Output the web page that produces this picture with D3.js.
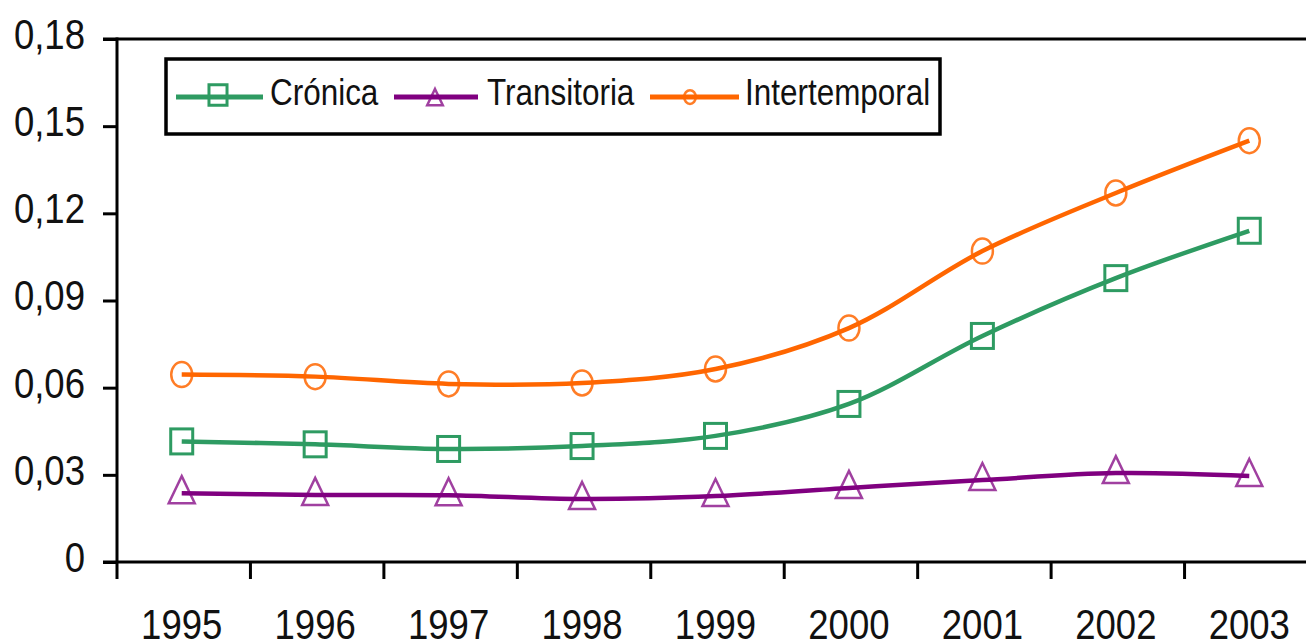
<!DOCTYPE html>
<html><head><meta charset="utf-8">
<script src="https://cdn.jsdelivr.net/npm/d3@7"></script>
<style>
html,body{margin:0;padding:0;background:#fff;}
svg{display:block;}
text{font-family:"Liberation Sans",Arial,sans-serif;fill:#111;}
</style></head>
<body><svg id="c" width="1306" height="643"></svg>
<script>
const years = ["1995","1996","1997","1998","1999","2000","2001","2002","2003"];
const cronica = [0.0415,0.0405,0.0389,0.0399,0.0434,0.0544,0.0778,0.0977,0.1140];
const transitoria = [0.0237,0.0231,0.0230,0.0217,0.0227,0.0255,0.0282,0.0306,0.0296];
const intertemporal = [0.0645,0.0638,0.0613,0.0616,0.0664,0.0805,0.1070,0.1270,0.1450];
const yTicks = [0,0.03,0.06,0.09,0.12,0.15,0.18];
const yTickLabels = ["0","0,03","0,06","0,09","0,12","0,15","0,18"];
const seriesNames = ["Crónica","Transitoria","Intertemporal"];
const colors = ["#2E9B62","#800080","#FF6600"];

const svg = d3.select("#c");
const x = d3.scaleBand().domain(years).range([117,1318]);
const y = d3.scaleLinear().domain([0,0.18]).range([562,39]);
const cx = d => x(d) + x.bandwidth()/2 - 2;

// axes lines
const axisCol = "#000";
svg.append("line").attr("x1",103).attr("x2",1306).attr("y1",y(0.18)).attr("y2",y(0.18)).attr("stroke",axisCol).attr("stroke-width",3);
svg.append("line").attr("x1",103).attr("x2",1306).attr("y1",y(0)).attr("y2",y(0)).attr("stroke",axisCol).attr("stroke-width",3);
svg.append("line").attr("x1",117).attr("x2",117).attr("y1",y(0.18)-1.5).attr("y2",579).attr("stroke",axisCol).attr("stroke-width",3);

// y axis
const yAxis = d3.axisLeft(y).tickValues(yTicks).tickSizeInner(14).tickSizeOuter(0)
  .tickFormat((d,i)=>yTickLabels[i]);
const gy = svg.append("g").attr("transform","translate(117,0)").call(yAxis);
gy.select(".domain").remove();
gy.selectAll(".tick line").attr("stroke",axisCol).attr("stroke-width",3);
gy.selectAll(".tick text").attr("x",-32/0.85).attr("dy","0.22em")
  .attr("transform","scale(0.85,1)").style("font-size","43px").style("fill","#111");

// x axis boundary ticks
svg.append("g").selectAll("line").data(years.slice(1)).join("line")
  .attr("x1",d=>x(d)).attr("x2",d=>x(d)).attr("y1",y(0)).attr("y2",579)
  .attr("stroke",axisCol).attr("stroke-width",3);

const xAxis = d3.axisBottom(x).tickSize(0);
const gx = svg.append("g").attr("transform",`translate(-2,${y(0)})`).call(xAxis);
gx.select(".domain").remove();
gx.selectAll(".tick text").attr("y",77).attr("dy",0).attr("x",0)
  .attr("transform","scale(0.85,1)").style("font-size","43px").style("fill","#111");
gx.selectAll(".tick").each(function(){
  const t = d3.select(this);
  const tr = t.attr("transform");
  const m = /translate\(([-\d.]+),/.exec(tr);
  const px = +m[1];
  t.select("text").attr("x", 0);
  t.attr("transform",`translate(${px},0)`);
  t.select("text").attr("transform",`scale(0.85,1)`);
});

const line = d3.line().x((d,i)=>cx(years[i])).y(d=>y(d)).curve(d3.curveCatmullRom.alpha(0.5));
const data = [cronica, transitoria, intertemporal];

data.forEach((vals,k)=>{
  svg.append("path").datum(vals).attr("d",line).attr("fill","none")
    .attr("stroke",colors[k]).attr("stroke-width",4.5).attr("stroke-linejoin","round");
});

function marker(g, k, px, py, s){
  if(k===0){
    g.append("rect").attr("x",px-11*s).attr("y",py-12.5*s).attr("width",22*s).attr("height",25*s)
      .attr("fill","none").attr("stroke",colors[0]).attr("stroke-width",3);
  } else if(k===1){
    g.append("path").attr("d",`M${px},${py-15*s} L${px+13*s},${py+12*s} L${px-13*s},${py+12*s} Z`)
      .attr("fill","none").attr("stroke",colors[1]).attr("stroke-width",2.5).attr("stroke-opacity",0.75);
  } else {
    g.append("ellipse").attr("cx",px).attr("cy",py).attr("rx",10.5*s).attr("ry",12.5*s)
      .attr("fill","none").attr("stroke",colors[2]).attr("stroke-width",2.5).attr("stroke-opacity",0.85);
  }
}
const mg = svg.append("g");
data.forEach((vals,k)=>{
  vals.forEach((v,i)=>marker(mg,k,cx(years[i]),y(v)+(k===1?-2:0),1));
});

// legend
svg.append("rect").attr("x",166).attr("y",59).attr("width",774).attr("height",75)
  .attr("fill","#fff").attr("stroke","#000").attr("stroke-width",3.5);
const leg = [
  {x1:176,x2:263,mx:218,tx:270},
  {x1:394,x2:478,mx:435,tx:487},
  {x1:650,x2:739,mx:690,tx:745}
];
leg.forEach((L,k)=>{
  svg.append("line").attr("x1",L.x1).attr("x2",L.x2).attr("y1",97).attr("y2",97)
    .attr("stroke",colors[k]).attr("stroke-width",5);
  if(k===0) marker(svg,0,L.mx,95,0.82);
  if(k===1) marker(svg,1,L.mx,98,0.6);
  if(k===2) marker(svg,2,L.mx,97,0.55);
  svg.append("text").attr("transform",`translate(${L.tx},105) scale(0.85,1)`)
    .style("font-size","37px").text(seriesNames[k]);
});
</script></body></html>
